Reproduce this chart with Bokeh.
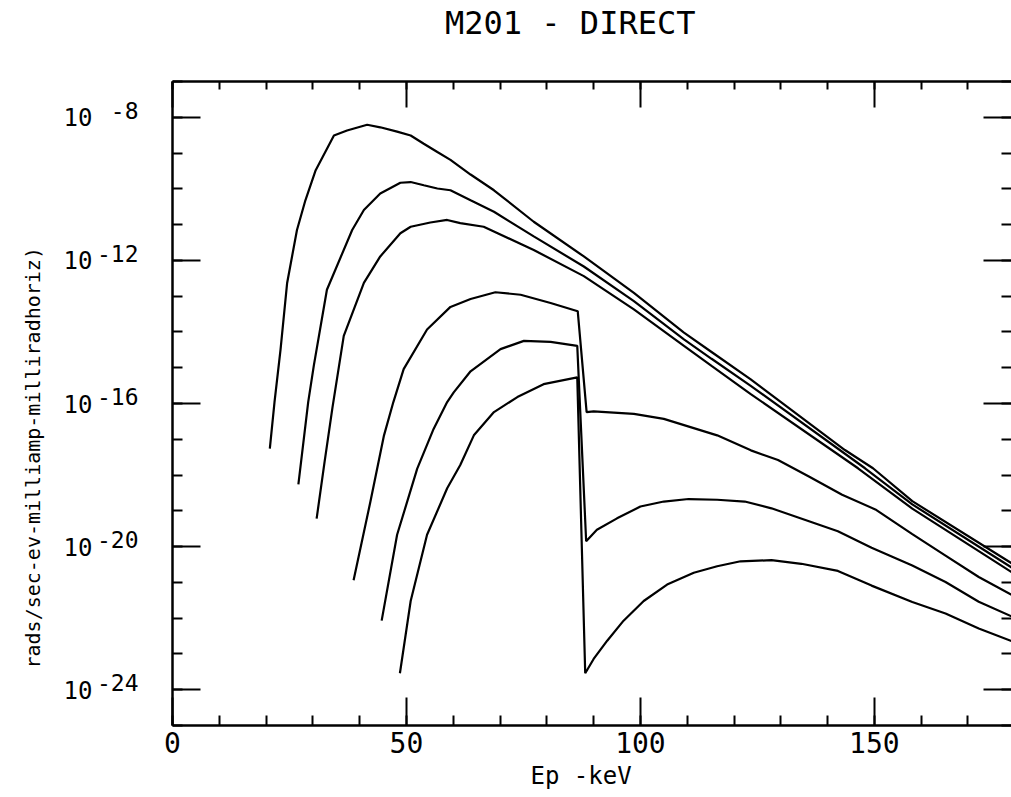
import numpy as np
from bokeh.plotting import figure
from bokeh.models import (Range1d, LinearAxis, LogAxis, LogScale, FixedTicker,
                          SingleIntervalTicker, CustomJSTickFormatter, Title)
from bokeh.embed import file_html
from bokeh.resources import INLINE

# ---------------- data (x in keV, values as log10 of the plotted quantity) ----------------
x1 = [20.8, 21.8, 23.1, 24.5, 26.6, 28.4, 30.6, 34.5, 37.3, 41.6, 44.4, 48.0, 50.9, 53.7,
      56.6, 59.4, 63.7, 68.7, 77.2, 87.9, 98.6, 109.3, 115.2, 123.5, 143.7, 149.7, 158.1, 179.5]
L1 = [-17.26, -15.96, -14.48, -12.63, -11.15, -10.32, -9.48, -8.51, -8.37, -8.21, -8.28, -8.40,
      -8.51, -8.74, -8.97, -9.19, -9.60, -10.04, -10.92, -11.89, -12.91, -14.02, -14.56, -15.32,
      -17.30, -17.81, -18.73, -20.48]

x2 = [26.9, 29.0, 30.2, 33.0, 38.4, 40.9, 44.4, 48.7, 50.9, 53.7, 56.6, 59.4, 63.7, 68.7,
      77.2, 87.9, 98.6, 109.3, 115.2, 123.5, 148.0, 158.1, 179.5]
L2 = [-18.26, -15.96, -14.94, -12.82, -11.15, -10.59, -10.13, -9.83, -9.81, -9.90, -9.99,
      -10.04, -10.32, -10.64, -11.33, -12.17, -13.14, -14.21, -14.75, -15.50, -17.81, -18.82,
      -20.60]

x3 = [30.8, 32.5, 34.2, 36.6, 40.9, 44.4, 48.7, 50.9, 55.1, 58.7, 61.5, 66.5, 77.2, 87.9,
      98.6, 109.3, 115.2, 123.5, 146.5, 158.1, 179.5]
L3 = [-19.22, -17.63, -16.10, -14.11, -12.63, -11.89, -11.24, -11.06, -10.94, -10.87, -10.96,
      -11.06, -11.71, -12.44, -13.37, -14.39, -14.95, -15.73, -17.81, -18.94, -20.73]

x4 = [38.7, 42.3, 45.2, 47.2, 49.4, 54.4, 59.4, 63.7, 69.0, 74.4, 80.8, 86.6, 88.5, 90.0,
      98.6, 105.0, 110.7, 116.4, 123.6, 129.4, 136.0, 143.1, 150.2, 158.1, 165.2, 172.3, 179.5]
L4 = [-20.94, -18.74, -16.89, -15.96, -15.04, -13.93, -13.30, -13.08, -12.89, -12.96, -13.19,
      -13.42, -16.24, -16.22, -16.29, -16.43, -16.66, -16.89, -17.31, -17.58, -18.04, -18.55,
      -18.96, -19.65, -20.25, -20.85, -21.36]

x5 = [44.7, 48.0, 52.3, 55.8, 58.7, 60.1, 63.7, 70.1, 75.1, 80.8, 86.5, 88.4, 90.7, 95.0,
      100.0, 105.0, 110.3, 116.4, 122.3, 128.0, 135.1, 142.2, 149.4, 158.1, 165.2, 172.3, 179.5]
L5 = [-22.07, -19.67, -17.82, -16.71, -15.96, -15.69, -15.10, -14.48, -14.25, -14.28, -14.39,
      -19.85, -19.53, -19.21, -18.88, -18.74, -18.67, -18.69, -18.74, -18.93, -19.25, -19.57,
      -20.03, -20.53, -20.99, -21.54, -21.96]

x6 = [48.6, 50.9, 54.4, 58.7, 61.5, 64.4, 68.7, 73.7, 79.3, 86.5, 88.2, 90.0, 92.9, 96.4,
      100.7, 105.7, 111.4, 116.4, 121.4, 128.0, 134.4, 142.2, 149.4, 158.1, 165.2, 172.3, 179.5]
L6 = [-23.54, -21.52, -19.67, -18.37, -17.72, -16.89, -16.24, -15.82, -15.46, -15.27, -23.54,
      -23.14, -22.63, -22.07, -21.52, -21.06, -20.73, -20.55, -20.41, -20.38, -20.48, -20.68,
      -21.09, -21.55, -21.87, -22.29, -22.65]

y_ticks_major = [1e-24, 1e-20, 1e-16, 1e-12, 1e-8]
y_ticks_minor = [10.0 ** k for k in range(-25, -6)]
y_tick_base = ["10", "10", "10", "10", "10"]
y_tick_exp = ["-24", "-20", "-16", "-12", "-8"]

title_text = "M201 - DIRECT"
xlabel_text = "Ep -keV"
ylabel_text = "rads/sec-ev-milliamp-milliradhoriz)"

FONT = "DejaVu Sans Mono"
Y_LO, Y_HI = 1e-25, 1e-7
EXP_RAISE = 10 ** -0.2   # lifts the exponent labels about 7 px above their tick
TITLE_AT = 85            # x position (axis units) where the title is centred

# ---------------- figure ----------------
p = figure(width=1011, height=797, x_range=Range1d(0, 179.3), y_range=Range1d(Y_LO, Y_HI),
           y_axis_type="log", output_backend="svg", toolbar_location=None,
           min_border_left=172, min_border_top=79, min_border_bottom=72, min_border_right=0)
p.extra_y_ranges = {"exp": Range1d(Y_LO * EXP_RAISE, Y_HI * EXP_RAISE)}
p.extra_y_scales = {"exp": LogScale()}
p.outline_line_color = None
p.xgrid.visible = False
p.ygrid.visible = False
p.background_fill_color = "white"
p.border_fill_color = "white"

blank = CustomJSTickFormatter(code="return ''")

def style_axis(ax, major_in, minor_in, line=True):
    ax.major_tick_in = major_in
    ax.major_tick_out = 0
    ax.minor_tick_in = minor_in
    ax.minor_tick_out = 0
    ax.major_tick_line_width = 2
    ax.minor_tick_line_width = 2
    ax.major_tick_line_color = "black"
    ax.minor_tick_line_color = "black"
    ax.axis_line_width = 2.5
    ax.axis_line_color = "black" if line else None

def no_ticks(ax):
    ax.major_tick_in = 0
    ax.major_tick_out = 0
    ax.minor_tick_in = 0
    ax.minor_tick_out = 0
    ax.major_tick_line_color = None
    ax.minor_tick_line_color = None
    ax.axis_line_color = None

# bottom axis
xa = p.xaxis[0]
xa.ticker = SingleIntervalTicker(interval=50, num_minor_ticks=5)
style_axis(xa, 28, 10)
xa.major_label_text_font = FONT
xa.major_label_text_font_size = "28px"
xa.major_label_text_color = "black"
xa.major_label_standoff = 6

# left axis: frame line and ticks only
ya = p.yaxis[0]
ya.ticker = FixedTicker(ticks=y_ticks_major, minor_ticks=y_ticks_minor)
ya.formatter = blank
ya.major_label_text_font_size = "1px"
ya.major_label_standoff = 0
style_axis(ya, 28, 10)

# exponent labels (raised) and the "10" labels
ea = LogAxis(y_range_name="exp", ticker=FixedTicker(ticks=y_ticks_major))
ea.major_label_overrides = {t: s for t, s in zip(y_ticks_major, y_tick_exp)}
ea.major_label_text_font = FONT
ea.major_label_text_font_size = "23px"
ea.major_label_text_color = "black"
ea.major_label_standoff = 34
no_ticks(ea)
p.add_layout(ea, "left")

ba = LogAxis(ticker=FixedTicker(ticks=y_ticks_major))
ba.major_label_overrides = {t: s for t, s in zip(y_ticks_major, y_tick_base)}
ba.major_label_text_font = FONT
ba.major_label_text_font_size = "24px"
ba.major_label_text_color = "black"
ba.major_label_standoff = 1
no_ticks(ba)
p.add_layout(ba, "left")

# top axis
ta = LinearAxis(ticker=SingleIntervalTicker(interval=50, num_minor_ticks=5), formatter=blank)
ta.major_label_text_font_size = "1px"
ta.major_label_standoff = 0
style_axis(ta, 26, 8)
p.add_layout(ta, "above")

# chart title, drawn as the single label of an extra top axis
tta = LinearAxis(ticker=FixedTicker(ticks=[TITLE_AT]))
tta.major_label_overrides = {TITLE_AT: title_text}
tta.major_label_text_font = FONT
tta.major_label_text_font_size = "32px"
tta.major_label_text_color = "black"
tta.major_label_standoff = 40
no_ticks(tta)
p.add_layout(tta, "above")

# right axis (frame edge is cut off in the reference)
ra = LogAxis(ticker=FixedTicker(ticks=y_ticks_major, minor_ticks=y_ticks_minor), formatter=blank)
ra.major_label_text_font_size = "1px"
ra.major_label_standoff = 0
style_axis(ra, 28, 10, line=False)
p.add_layout(ra, "right")

# curves
for xs, ls in [(x1, L1), (x2, L2), (x3, L3), (x4, L4), (x5, L5), (x6, L6)]:
    p.line(xs, 10.0 ** np.array(ls), line_color="black", line_width=2.2)

# axis labels
p.add_layout(Title(text=xlabel_text, align="left", offset=358, standoff=8,
                   text_font=FONT, text_font_size="24px", text_font_style="normal",
                   text_color="black"), "below")
p.add_layout(Title(text=ylabel_text, align="left", offset=57, standoff=32,
                   text_font=FONT, text_font_size="20px", text_font_style="normal",
                   text_color="black"), "left")

open("out.html", "w").write(file_html(p, INLINE))
